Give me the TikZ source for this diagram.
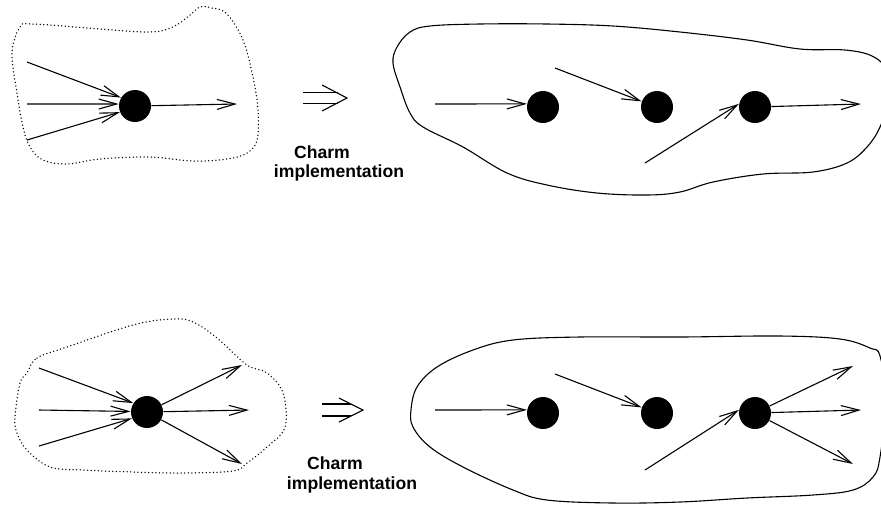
\documentclass[tikz,border=0pt]{standalone}
\usepackage{fontspec}
\setmainfont{Liberation Sans}
\usetikzlibrary{arrows.meta}

\begin{document}
\begin{tikzpicture}[x=0.5pt,y=-0.5pt,
  dot/.style={circle,fill=black,inner sep=0pt,minimum size=16pt},
  flow/.style={line width=0.55pt,-{Straight Barb[length=9pt,width=5pt]}},
  region/.style={line width=0.55pt},
  dottedregion/.style={line width=0.75pt,line cap=round,dash pattern=on 0pt off 1.8pt},
  caption/.style={font=\fontsize{8.8}{10}\selectfont\bfseries,anchor=base,inner sep=0pt},
  implies/.style={line width=0.55pt}]
\useasboundingbox (0,0) rectangle (881,505);

% ---------------- upper row ----------------
% dotted region around the single node
\draw[dottedregion] plot[smooth cycle,tension=0.6] coordinates {
  (20,27) (33,24) (100,29) (150,32) (173,27) (190,15) (200,7) (212,8)
  (227,14) (243,40) (253,77) (258,110) (257,140) (247,153) (227,159)
  (193,161) (150,157) (100,159) (67,164) (43,160) (30,147) (23,127)
  (17,93) (12,53)};

\node[dot] (a) at (135,106) {};
\coordinate (a1) at (27,62);
\coordinate (a2) at (27,104);
\coordinate (a3) at (27,140);
\coordinate (ao) at (237,104);
\draw[flow] (a1) -- (a.149);
\draw[flow] (a2) -- (a.173);
\draw[flow] (a3) -- (a.202);
\draw[flow] (a) -- (ao);

% implication arrow
\draw[implies] (303,92.5) -- (338,92.5) (303,103.5) -- (338,103.5);
\draw[implies,line join=miter] (322,85) -- (347,98) -- (322,111);

\node[caption] (c1) at (322,158) {Charm};
\node[caption] (i1) at (339,177) {implementation};

% solid region around the chain
\draw[region] plot[smooth cycle,tension=0.6] coordinates {
  (393,63) (397,47) (410,32) (430,26) (480,24) (547,24) (613,26) (680,32)
  (747,40) (800,49) (845,50) (872,56) (886,70) (888,100) (880,127)
  (867,147) (847,163) (813,172) (763,174) (713,182) (680,192) (647,195)
  (597,193) (547,185) (507,173) (463,147) (423,127) (410,113) (400,87)};

\node[dot] (b1) at (543,107) {};
\node[dot] (b2) at (657,107) {};
\node[dot] (b3) at (755,107) {};
\coordinate (b1i) at (435,104);
\coordinate (b2i) at (555,68);
\coordinate (b3i) at (645,163);
\coordinate (b3o) at (861,104);
\draw[flow] (b1i) -- (b1.169);
\draw[flow] (b2i) -- (b2.160);
\draw[flow] (b3i) -- (b3.169);
\draw[flow] (b3) -- (b3o);

% ---------------- lower row ----------------
\draw[dottedregion] plot[smooth cycle,tension=0.6] coordinates {
  (27,373) (37,358) (67,347) (133,325) (173,319) (193,322) (217,338)
  (247,365) (267,373) (283,393) (285,427) (267,447) (247,463) (233,471)
  (183,473) (133,472) (83,470) (50,467) (27,450) (17,433) (15,417)
  (20,383)};

\node[dot] (d) at (147,412) {};
\coordinate (d1) at (39,368);
\coordinate (d2) at (39,410);
\coordinate (d3) at (39,446);
\coordinate (do1) at (242,365);
\coordinate (do2) at (249,410);
\coordinate (do3) at (242,464);
\draw[flow] (d1) -- (d.147);
\draw[flow] (d2) -- (d.178);
\draw[flow] (d3) -- (d.203);
\draw[flow] (d) -- (do1);
\draw[flow] (d) -- (do2);
\draw[flow] (d) -- (do3);

\draw[implies] (322,404) -- (351,404) (322,416) -- (351,416);
\draw[implies,line join=miter] (339,398) -- (363,410) -- (339,422);

\node[caption] (c2) at (335,469) {Charm};
\node[caption] (i2) at (352,489) {implementation};

\draw[region] plot[smooth cycle,tension=0.6] coordinates {
  (411,410) (417,387) (437,367) (473,350) (513,340) (580,337) (680,337)
  (780,336) (840,339) (870,348) (880,356) (886,400) (880,457) (873,477)
  (853,490) (813,495) (747,498) (680,502) (613,503) (547,500) (513,490)
  (463,467) (430,447) (413,427)};

\node[dot] (e1) at (543,413) {};
\node[dot] (e2) at (657,413) {};
\node[dot] (e3) at (755,413) {};
\coordinate (e1i) at (435,410);
\coordinate (e2i) at (555,374);
\coordinate (e3i) at (645,470);
\coordinate (eo1) at (853,366);
\coordinate (eo2) at (861,410);
\coordinate (eo3) at (853,464);
\draw[flow] (e1i) -- (e1.169);
\draw[flow] (e2i) -- (e2.160);
\draw[flow] (e3i) -- (e3.169);
\draw[flow] (e3) -- (eo1);
\draw[flow] (e3) -- (eo2);
\draw[flow] (e3) -- (eo3);
\end{tikzpicture}
\end{document}
